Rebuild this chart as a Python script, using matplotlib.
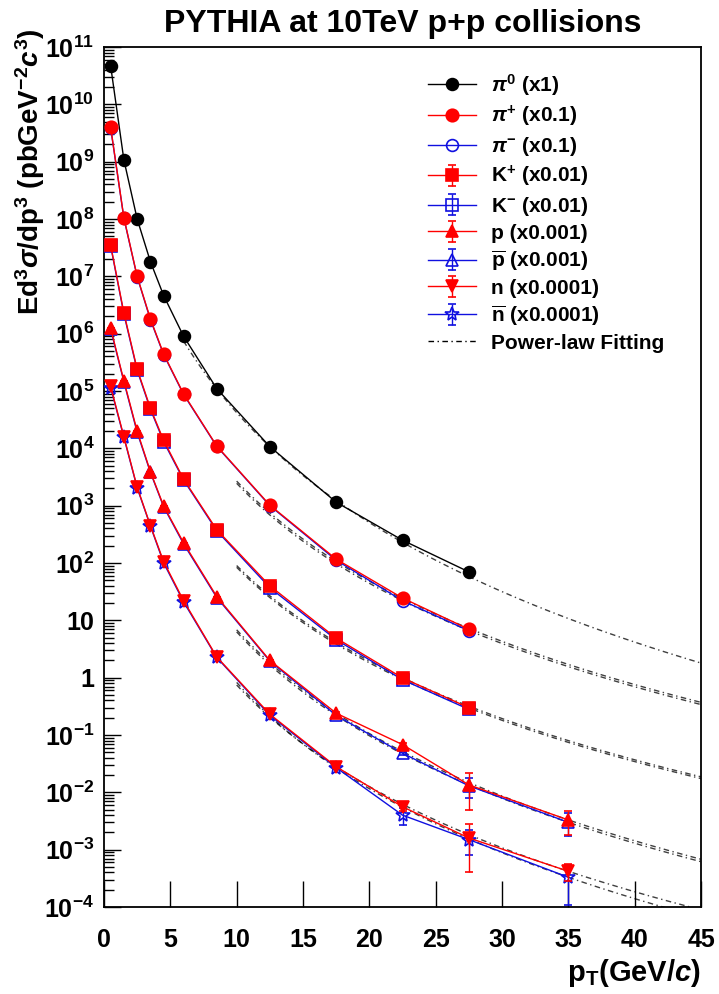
import numpy as np
import matplotlib
matplotlib.use('Agg')
import matplotlib.pyplot as plt
from matplotlib.ticker import LogLocator, FuncFormatter, MultipleLocator, NullLocator

plt.rcParams['font.family'] = ['Liberation Sans', 'DejaVu Sans']
plt.rcParams['font.weight'] = 'bold'
plt.rcParams['mathtext.fontset'] = 'custom'
plt.rcParams['mathtext.rm'] = 'Liberation Sans:bold'
plt.rcParams['mathtext.bf'] = 'Liberation Sans:bold'
plt.rcParams['mathtext.it'] = 'Liberation Sans:bold:italic'
plt.rcParams['mathtext.sf'] = 'Liberation Sans:bold'

# pT bin centres (GeV/c)
pt = [0.5, 1.5, 2.5, 3.5, 4.5, 6, 8.5, 12.5, 17.5, 22.5, 27.5]
pt_ext = [0.5, 1.5, 2.5, 3.5, 4.5, 6, 8.5, 12.5, 17.5, 22.5, 27.5, 35]

# invariant yields, already scaled as in the legend
pi0 = [4.7e10, 1.07e9, 1.0e8, 1.8e7, 4.6e6, 9.0e5, 1.1e5, 1.07e4, 1.15e3, 250, 70]
pip = [4.0e9, 1.05e8, 1.0e7, 1.8e6, 4.4e5, 8.9e4, 1.1e4, 1.02e3, 117, 24.5, 7.0]
pim = [3.9e9, 1.03e8, 9.8e6, 1.75e6, 4.3e5, 8.7e4, 1.08e4, 1.0e3, 112, 22, 6.6]
kp = [3.5e7, 2.3e6, 2.4e5, 5.0e4, 1.37e4, 2.9e3, 380, 40, 4.9, 0.99, 0.30]
km = [3.4e7, 2.2e6, 2.3e5, 4.8e4, 1.3e4, 2.8e3, 365, 37, 4.6, 0.92, 0.28]
prot = [1.25e6, 1.5e5, 2.0e4, 3.9e3, 980, 225, 26, 2.0, 0.24, 0.068, 0.0135, 0.0033]
pbar = [1.2e6, 1.45e5, 1.9e4, 3.8e3, 950, 215, 25, 1.95, 0.22, 0.048, 0.013, 0.0030]
neut = [1.2e5, 1.6e4, 2.1e3, 450, 105, 22, 2.3, 0.23, 0.028, 0.0056, 0.0016, 4.2e-4]
nbar = [1.15e5, 1.55e4, 2.05e3, 440, 100, 21, 2.25, 0.22, 0.027, 0.004, 0.0015, 3.3e-4]

# statistical errors (only the last bins are visible)
kp_err = [0, 0, 0, 0, 0, 0, 0, 0, 0, 0.03, 0.02]
km_err = [0, 0, 0, 0, 0, 0, 0, 0, 0, 0.03, 0.02]
prot_err = [0, 0, 0, 0, 0, 0, 0, 0, 0.01, 0.004, 0.0085, 0.0015]
pbar_err = [0, 0, 0, 0, 0, 0, 0, 0, 0.01, 0.003, 0.005, 0.0013]
neut_err = [0, 0, 0, 0, 0, 0, 0, 0, 0.001, 0.0008, 0.0012, 1.4e-4]
nbar_err = [0, 0, 0, 0, 0, 0, 0, 0, 0.001, 0.0013, 0.0007, 2.2e-4]

# power-law fit parameters: A/(1+pT/p0)^n, log10(A)
fit_logA = [9.733, 9.895, 9.857, 8.131, 8.10, 7.541, 7.515, 6.443, 6.79]
fit_p0 = [2.7, 1, 1, 1, 1, 1, 1, 1, 1]
fit_n = [7.6, 6.21, 6.21, 5.93, 5.93, 6.44, 6.45, 6.31, 6.6]
fit_start = [6, 10, 10, 10, 10, 10, 10, 10, 10]

labels = [r'$\pi^{0}$ (x1)', r'$\pi^{+}$ (x0.1)', r'$\pi^{-}$ (x0.1)',
          r'K$^{+}$ (x0.01)', r'K$^{-}$ (x0.01)', 'p (x0.001)',
          r'$\overline{\mathrm{p}}$ (x0.001)', 'n (x0.0001)',
          r'$\overline{\mathrm{n}}$ (x0.0001)']

fig = plt.figure(figsize=(7.19, 9.94), dpi=100)
ax = fig.add_axes([104 / 719, 1 - 907 / 994, 597 / 719, 860 / 994])

RED = '#ff0000'
BLUE = '#1010e0'

series = [
    (pt, pi0, None, 'o', 'black', 'black', 8.5),
    (pt, pip, None, 'o', RED, RED, 9),
    (pt, pim, None, 'o', BLUE, 'none', 8.5),
    (pt, kp, kp_err, 's', RED, RED, 8.5),
    (pt, km, km_err, 's', BLUE, 'none', 8.5),
    (pt_ext, prot, prot_err, '^', RED, RED, 9),
    (pt_ext, pbar, pbar_err, '^', BLUE, 'none', 9),
    (pt_ext, neut, neut_err, 'v', RED, RED, 8.5),
    (pt_ext, nbar, nbar_err, '*', BLUE, 'none', 10.5),
]

# anti-particles underneath, particles on top
zorders = [5, 5, 4, 5, 4, 5, 4, 5, 4]
handles = []
for (x, y, e, m, c, fc, ms), lab, z in zip(series, labels, zorders):
    h = ax.errorbar(x, y, yerr=e, fmt='-' + m, color=c, mfc=fc, mec=c,
                    ms=ms, lw=1.0, mew=1.2, elinewidth=1.0, capsize=3,
                    label=lab, zorder=z)
    handles.append(h)

# power-law fits extended to high pT
for i in range(len(fit_n)):
    xf = np.linspace(fit_start[i], 45, 200)
    yf = 10 ** fit_logA[i] * (1 + xf / fit_p0[i]) ** (-fit_n[i])
    ax.plot(xf, yf, color='black', lw=1.0, dashes=(4, 2.5, 1, 2.5),
            alpha=0.75, zorder=3)
fit_handle, = ax.plot([], [], color='black', lw=1.0, dashes=(4, 2.5, 1, 2.5))

ax.set_yscale('log')
ax.set_xlim(0, 45)
ax.set_ylim(1e-4, 1e11)

ax.yaxis.set_major_locator(LogLocator(base=10, numticks=40))
ax.yaxis.set_minor_locator(LogLocator(base=10, subs=np.arange(2, 10), numticks=400))


def yfmt(v, pos):
    e = int(round(np.log10(v)))
    if e == 0:
        return '1'
    if e == 1:
        return '10'
    return r'$10^{%d}$' % e


ax.yaxis.set_major_formatter(FuncFormatter(yfmt))
ax.xaxis.set_major_locator(MultipleLocator(5))
ax.xaxis.set_minor_locator(NullLocator())

ax.tick_params(axis='y', which='major', direction='in', length=12, width=1,
               labelsize=18, pad=7, right=False)
ax.tick_params(axis='y', which='minor', direction='in', length=7, width=1,
               right=False)
ax.tick_params(axis='x', which='major', direction='in', length=19, width=1,
               labelsize=18, pad=15, top=False)
for s in ax.spines.values():
    s.set_linewidth(1.3)

ax.set_title('PYTHIA at 10TeV p+p collisions', fontsize=23, fontweight='bold', pad=10.5)
ax.set_xlabel(r'p$_{\mathrm{T}}$(GeV/$c$)', fontsize=21, fontweight='bold')
ax.xaxis.set_label_coords(1.0, -0.058)
ax.xaxis.label.set_horizontalalignment('right')

fig.text(30 / 719, 1 - 172 / 994,
         r'Ed$^{3}\sigma$/dp$^{3}$ (pbGeV$^{-2}$$c^{3}$)',
         rotation=90, fontsize=20, fontweight='bold', ha='center', va='center')

leg = ax.legend(handles + [fit_handle], labels + ['Power-law Fitting'],
                loc='upper left', bbox_to_anchor=(428 / 719, 1 - 72 / 994),
                bbox_transform=fig.transFigure, frameon=False, fontsize=15,
                handlelength=2.3, handletextpad=0.7, labelspacing=0.28,
                borderpad=0, borderaxespad=0)

fig.savefig('out.png', dpi=100)
